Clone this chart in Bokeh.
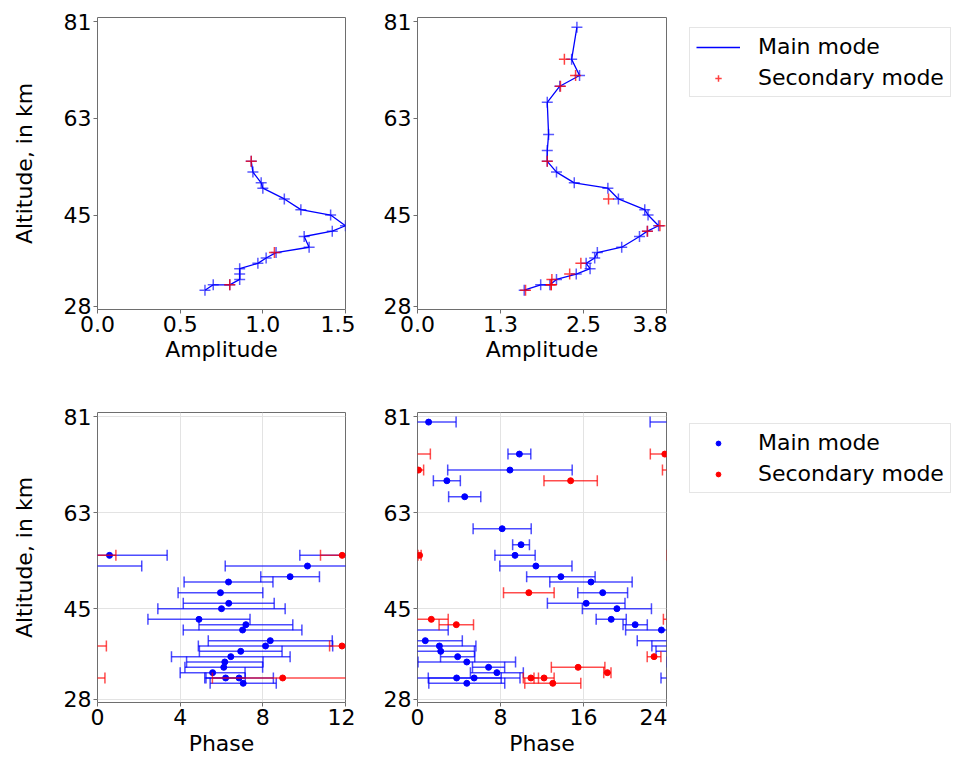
import numpy as np
from bokeh.plotting import figure
from bokeh.layouts import row, column
from bokeh.models import Range1d, FixedTicker, PrintfTickFormatter, Legend, LegendItem
from bokeh.embed import file_html
from bokeh.resources import INLINE

# ---------------- data ----------------
# left column (period 12)
alt_l_main = [55, 53, 51, 50, 48, 46, 45, 43, 42, 41, 39, 38, 37, 36, 35, 34, 33, 32, 32, 31]
amp_l_main = [0.93, 0.94, 0.99, 1.00, 1.13, 1.23, 1.41, 1.50, 1.42, 1.25, 1.28, 1.08, 1.02,
              0.97, 0.86, 0.86, 0.86, 0.80, 0.70, 0.65]
pha_l_main = [0.58, 10.16, 9.32, 6.34, 5.95, 6.35, 6.00, 4.91, 7.18, 7.02, 8.36, 8.13, 6.93,
              6.45, 6.16, 6.11, 5.57, 6.20, 6.85, 7.05]
err_l_main = [2.79, 3.98, 1.42, 2.15, 2.05, 2.20, 3.08, 2.47, 2.27, 2.87, 3.00, 3.25, 2.00,
              2.87, 1.85, 1.88, 1.57, 0.95, 1.66, 1.60]
alt_l_sec = [55, 38, 32]
amp_l_sec = [0.93, 1.07, 0.80]
pha_l_sec = [11.84, 11.83, 8.96]
err_l_sec = [1.05, 0.60, 3.40]

# right column (period 24)
alt_r_main = [80, 74, 71, 69, 66, 60, 57, 55, 53, 51, 50, 48, 46, 45, 43, 42, 41, 39, 38, 37,
              36, 35, 34, 33, 32, 32, 31]
amp_r_main = [2.42, 2.34, 2.46, 2.16, 1.97, 1.99, 1.97, 1.97, 2.11, 2.38, 2.89, 3.05, 3.45,
              3.50, 3.66, 3.49, 3.37, 3.10, 2.73, 2.69, 2.56, 2.62, 2.41, 2.11, 2.01, 1.87, 1.62]
pha_r_main = [1.07, 9.82, 8.91, 2.83, 4.55, 8.16, 9.98, 9.40, 11.41, 13.82, 16.72, 17.85, 16.26,
              19.22, 18.67, 20.98, 23.51, 0.75, 2.11, 2.24, 3.87, 4.75, 6.85, 7.65, 3.77, 5.46, 4.75]
err_r_main = [2.65, 1.10, 6.00, 1.30, 1.55, 2.80, 0.81, 1.94, 3.48, 3.30, 3.97, 2.40, 3.74,
              3.33, 1.45, 1.17, 3.45, 3.57, 3.52, 3.25, 1.65, 4.70, 1.55, 2.55, 4.30, 4.42, 3.66]
alt_r_sec = [74, 71, 69, 55, 48, 43, 42, 36, 34, 33, 32, 32, 31]
amp_r_sec = [2.23, 2.40, 2.17, 1.97, 2.90, 3.68, 3.49, 2.48, 2.31, 2.04, 2.03, 2.03, 1.64]
pha_r_sec = [23.84, 0.10, 14.76, 0.20, 10.73, 1.33, 3.74, 22.80, 15.48, 18.30, 10.93, 12.20, 13.04]
err_r_sec = [1.40, 0.49, 2.57, 0.15, 2.44, 1.63, 1.66, 0.66, 2.58, 0.35, 0.73, 0.97, 2.70]

alt_ticks = [28, 45, 63, 81]
alt_lim = (27.4, 81.8)
amp_l_ticks = [0.0, 0.5, 1.0, 1.5]
amp_r_ticks = [0.0, 1.26, 2.52, 3.78]
pha_l_ticks = [0, 4, 8, 12]
pha_r_ticks = [0, 8, 16, 24]
period_l = 12
period_r = 24

BLUE = "#0000ff"
RED = "#ff0000"
FONT = "DejaVu Sans"
FS = "22px"


def make_fig(width, height, left, right, top, bottom, xlim, xticks, xfmt, xlabel, ylabel,
             grid, xlabel_standoff):
    p = figure(width=width, height=height, output_backend="svg", toolbar_location=None,
               x_range=Range1d(*xlim), y_range=Range1d(*alt_lim),
               min_border_left=left, min_border_right=right,
               min_border_top=top, min_border_bottom=bottom)
    p.background_fill_color = "white"
    p.border_fill_color = "white"
    p.outline_line_color = "#6e6e6e"
    p.outline_line_width = 1
    p.xaxis.ticker = FixedTicker(ticks=xticks)
    p.yaxis.ticker = FixedTicker(ticks=alt_ticks)
    if xfmt:
        p.xaxis.formatter = PrintfTickFormatter(format=xfmt)
    for ax in (p.xaxis, p.yaxis):
        ax.axis_line_color = None
        ax.major_tick_line_color = "#6e6e6e"
        ax.major_tick_out = 4
        ax.major_tick_in = 0
        ax.minor_tick_line_color = None
        ax.major_label_text_font = FONT
        ax.major_label_text_font_size = FS
        ax.major_label_text_color = "black"
        ax.major_label_standoff = 2
        ax.axis_label_text_font = FONT
        ax.axis_label_text_font_size = FS
        ax.axis_label_text_font_style = "normal"
        ax.axis_label_text_color = "black"
    p.xaxis.axis_label = xlabel
    p.xaxis.axis_label_standoff = xlabel_standoff
    if ylabel:
        p.yaxis.axis_label = ylabel
        p.yaxis.axis_label_standoff = 24
    if grid:
        p.grid.grid_line_color = "#e3e3e3"
        p.grid.grid_line_width = 1
    else:
        p.grid.grid_line_color = None
    return p


def legend_fig(width, height, left, top, bottom):
    # empty panel that only hosts the legend; its ranges keep the data out of view
    p = figure(width=width, height=height, output_backend="svg", toolbar_location=None,
               x_axis_location=None, y_axis_location=None,
               x_range=Range1d(0, 1), y_range=Range1d(1000, 1001),
               min_border_left=left, min_border_top=top,
               min_border_right=0, min_border_bottom=bottom)
    p.outline_line_color = None
    p.grid.grid_line_color = None
    p.background_fill_color = "white"
    p.border_fill_color = "white"
    return p


def add_legend(p, r_main, r_sec, margin, glyph_h):
    leg = Legend(items=[LegendItem(label="Main mode", renderers=[r_main]),
                        LegendItem(label="Secondary mode", renderers=[r_sec])],
                 location="top_left")
    leg.label_text_font = FONT
    leg.label_text_font_size = FS
    leg.label_text_color = "black"
    leg.glyph_width = 44
    leg.glyph_height = glyph_h
    leg.label_height = 24
    leg.label_standoff = 18
    leg.padding = 6
    leg.spacing = 6
    leg.margin = margin
    leg.border_line_color = "#cccccc"
    leg.border_line_width = 1
    leg.background_fill_color = "white"
    leg.background_fill_alpha = 0.8
    p.add_layout(leg)


def amp_panel(p, alt_m, amp_m, alt_s, amp_s):
    r_line = p.line(amp_m, alt_m, line_color=BLUE, line_width=1.3)
    p.scatter(amp_m, alt_m, marker="cross", size=11, line_color=BLUE, line_width=1.5,
              line_alpha=0.65)
    r_sec = p.scatter(amp_s, alt_s, marker="cross", size=11, line_color=RED, line_width=1.5,
                      line_alpha=0.75)
    return r_line, r_sec


def errorbars(p, pha, err, alt, period, color):
    ph = np.asarray(pha, dtype=float)
    e = np.asarray(err, dtype=float)
    a = np.asarray(alt, dtype=float)
    x0 = np.concatenate([ph - e + k * period for k in (-1, 0, 1)])
    x1 = np.concatenate([ph + e + k * period for k in (-1, 0, 1)])
    yy = np.tile(a, 3)
    p.segment(x0=x0, y0=yy, x1=x1, y1=yy, line_color=color, line_width=1.5, line_alpha=0.7)
    p.scatter(np.concatenate([x0, x1]), np.concatenate([yy, yy]), marker="dash",
              angle=np.pi / 2, size=11, line_color=color, line_width=1.5, line_alpha=0.7)


def phase_panel(p, alt_m, pha_m, err_m, alt_s, pha_s, err_s, period):
    errorbars(p, pha_m, err_m, alt_m, period, BLUE)
    r_main = p.scatter(pha_m, alt_m, marker="circle", size=6, fill_color=BLUE, line_color=BLUE)
    errorbars(p, pha_s, err_s, alt_s, period, RED)
    r_sec = p.scatter(pha_s, alt_s, marker="circle", size=6, fill_color=RED, line_color=RED)
    return r_main, r_sec


TOP_H = 389
BOT_H = 369

f1 = make_fig(355, TOP_H, 97, 10, 17, 80, (0, 1.5), amp_l_ticks, "%.1f", "Amplitude",
              "Altitude, in km", False, 2)
amp_panel(f1, alt_l_main, amp_l_main, alt_l_sec, amp_l_sec)

f2 = make_fig(312, TOP_H, 62, 1, 17, 80, (0, 3.78), amp_r_ticks, "%.1f", "Amplitude",
              None, False, 2)
amp_panel(f2, alt_r_main, amp_r_main, alt_r_sec, amp_r_sec)

lg1 = legend_fig(285, TOP_H, 12, 17, 80)
rl1, rs1 = amp_panel(lg1, alt_r_main, amp_r_main, alt_r_sec, amp_r_sec)
add_legend(lg1, rl1, rs1, 10, 16)

f3 = make_fig(355, BOT_H, 97, 10, 23, 55, (0, 12), pha_l_ticks, None, "Phase",
              "Altitude, in km", True, 3)
phase_panel(f3, alt_l_main, pha_l_main, err_l_main, alt_l_sec, pha_l_sec, err_l_sec, period_l)

f4 = make_fig(312, BOT_H, 62, 1, 23, 55, (0, 24), pha_r_ticks, None, "Phase",
              None, True, 3)
phase_panel(f4, alt_r_main, pha_r_main, err_r_main, alt_r_sec, pha_r_sec, err_r_sec, period_r)

lg2 = legend_fig(285, BOT_H, 11, 23, 55)
rm2, rs2 = phase_panel(lg2, alt_r_main, pha_r_main, err_r_main, alt_r_sec, pha_r_sec,
                       err_r_sec, period_r)
add_legend(lg2, rm2, rs2, 11, 12)

layout = column(row(f1, f2, lg1), row(f3, f4, lg2))

open("out.html", "w").write(file_html(layout, INLINE))
